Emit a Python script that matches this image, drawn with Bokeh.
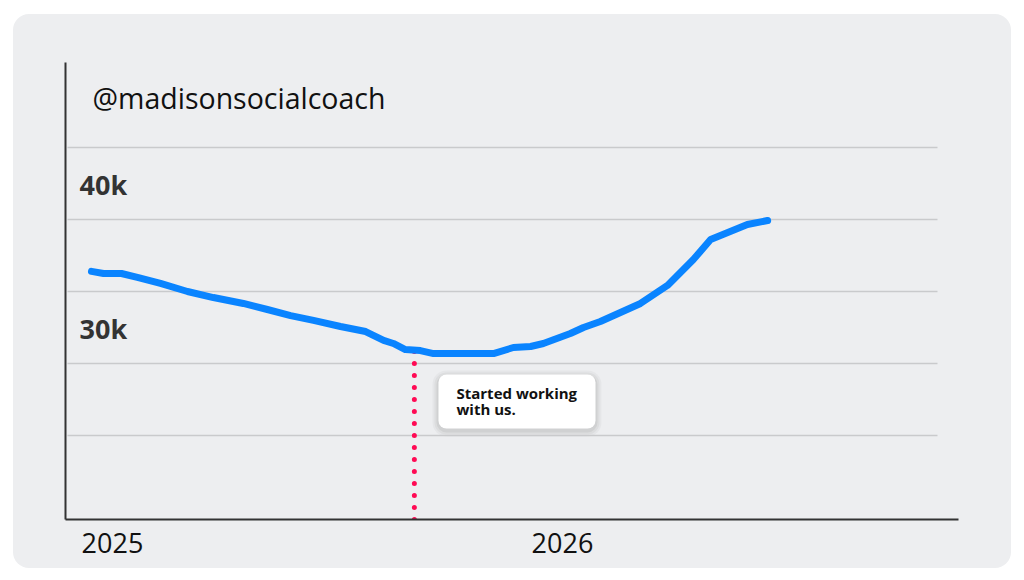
from bokeh.plotting import figure
from bokeh.models import Range1d, FixedTicker, BoxAnnotation
from bokeh.core.properties import value
from bokeh.embed import file_html
from bokeh.resources import INLINE

# x = months since Jan 2025
months = [-0.56, -0.24, 0.24, 0.69, 1.28, 2.0, 2.69, 3.49, 4.13, 4.75, 5.36, 6.08,
          6.75, 7.23, 7.49, 7.81, 8.21, 8.56, 10.16, 10.69, 11.15, 11.49, 12.21,
          12.56, 13.01, 14.08, 14.8, 15.49, 15.95, 16.93, 17.47]
followers = [36400, 36250, 36250, 35970, 35560, 35000, 34580, 34170, 33750, 33330,
             32990, 32570, 32220, 31600, 31390, 30970, 30900, 30690, 30690, 31110,
             31180, 31390, 32080, 32500, 32920, 34170, 35420, 37220, 38610, 39650, 39930]

year_ticks = [0, 12]
year_labels = ["2025", "2026"]
grid_values = [25000, 30000, 35000, 40000, 45000]
y_label_values = [30000, 40000]
y_labels = ["30k", "40k"]
start_month = 8.05
start_value = 30930
handle = "@madisonsocialcoach"
note = "Started working\nwith us."

PANEL = "#EDEEF0"
X_LO, X_HI = -1.253, 22.56
Y_LO, Y_HI = 19167, 50903
PX_X = 37.5          # px per month
PX_Y = 14.4 / 1000   # px per follower

p = figure(width=998, height=554, output_backend="svg", toolbar_location=None,
           x_range=Range1d(X_LO, X_HI), y_range=Range1d(Y_LO, Y_HI),
           min_border_left=52, min_border_right=53, min_border_top=48,
           min_border_bottom=49)
p.styles = {"margin-left": "13px", "margin-top": "14px", "border-radius": "16px",
            "overflow": "hidden", "background-color": PANEL}
p.background_fill_color = None
p.border_fill_color = None
p.outline_line_color = None
p.xgrid.visible = False
p.ygrid.visible = False

for ax in (p.xaxis[0], p.yaxis[0]):
    ax.axis_line_color = "#333333"
    ax.axis_line_width = 2
    ax.major_tick_line_color = None
    ax.minor_tick_line_color = None
p.yaxis[0].ticker = FixedTicker(ticks=[])
p.yaxis[0].major_label_text_font_size = "0px"
p.xaxis[0].ticker = FixedTicker(ticks=year_ticks)
p.xaxis[0].major_label_overrides = {t: l for t, l in zip(year_ticks, year_labels)}
p.xaxis[0].major_label_text_font = "Open Sans"
p.xaxis[0].major_label_text_font_size = "27px"
p.xaxis[0].major_label_text_color = "#111111"
p.xaxis[0].major_label_standoff = 7

# gridlines
p.segment(x0=[-1.2] * len(grid_values), x1=[22.0] * len(grid_values),
          y0=grid_values, y1=grid_values, line_color="#C9CACC", line_width=1.5)

# y labels inside plot
p.text(x=[X_LO] * len(y_labels), y=y_label_values, text=y_labels, x_offset=14,
       y_offset=-35, text_font=value("Open Sans"), text_font_style="bold",
       text_font_size="27px", text_color="#333333", text_baseline="middle")

# handle title
p.text(x=[X_LO], y=[Y_HI], text=[handle], x_offset=27, y_offset=35,
       text_font=value("Open Sans"), text_font_size="28.5px", text_color="#111111",
       text_baseline="middle")

# start marker
p.segment(x0=[start_month], x1=[start_month], y0=[Y_LO], y1=[start_value],
          line_color="#FF0A54", line_width=5, line_dash="0 12", line_cap="round")

# main line
p.line(months, followers, line_color="#0A84FF", line_width=7, line_cap="round",
       line_join="round")

# annotation box
bl, br, bt, bb = 8.693, 12.88, 29236, 25486
for i, a in [(6, 0.03), (4, 0.04), (2, 0.05)]:
    p.add_layout(BoxAnnotation(left=bl - i / PX_X, right=br + i / PX_X,
                               top=bt + (i - 2) / PX_Y, bottom=bb - (i + 2) / PX_Y,
                               fill_color="#000000", fill_alpha=a, line_color=None,
                               border_radius=8 + i, level="underlay"))
p.add_layout(BoxAnnotation(left=bl, right=br, top=bt, bottom=bb, fill_color="white",
                           fill_alpha=1, line_color=None, border_radius=8,
                           level="underlay"))
p.text(x=[bl], y=[bt], text=[note], x_offset=18, y_offset=8,
       text_font=value("Open Sans"), text_font_style="bold", text_font_size="15px",
       text_color="#111111", text_baseline="top", text_line_height=0.8)

open("out.html", "w").write(file_html(p, INLINE))
